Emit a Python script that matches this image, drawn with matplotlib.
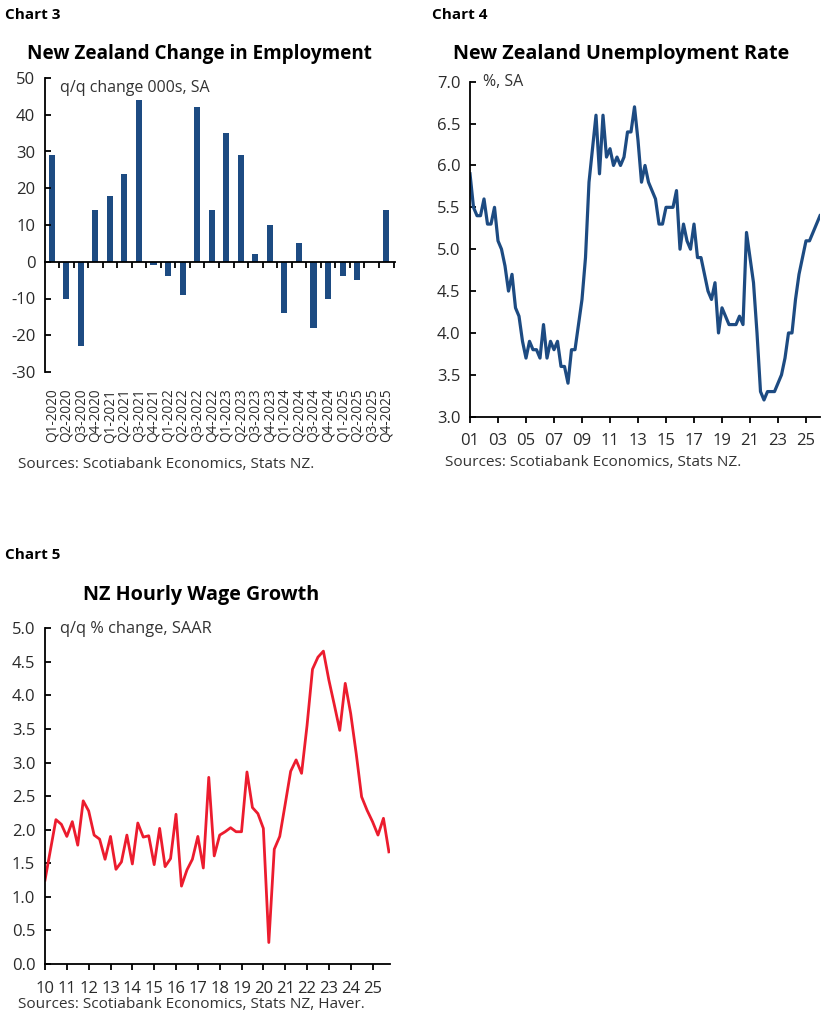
import matplotlib
matplotlib.use("Agg")
import matplotlib.pyplot as plt
import numpy as np

plt.rcParams['font.family'] = ['Open Sans', 'DejaVu Sans']
plt.rcParams['axes.unicode_minus'] = False

# Chart 3: change in employment, q/q, 000s
emp_labels = ['Q1-2020', 'Q2-2020', 'Q3-2020', 'Q4-2020',
              'Q1-2021', 'Q2-2021', 'Q3-2021', 'Q4-2021',
              'Q1-2022', 'Q2-2022', 'Q3-2022', 'Q4-2022',
              'Q1-2023', 'Q2-2023', 'Q3-2023', 'Q4-2023',
              'Q1-2024', 'Q2-2024', 'Q3-2024', 'Q4-2024',
              'Q1-2025', 'Q2-2025', 'Q3-2025', 'Q4-2025']
emp_change = [29, -10, -23, 14, 18, 24, 44, -1, -4, -9, 42, 14,
              35, 29, 2, 10, -14, 5, -18, -10, -4, -5, 0, 14]

# Chart 4: unemployment rate, quarterly from 2000 Q4 to 2025 Q4
unemp_start = 2001.0
unemp_rate = [5.9, 5.5, 5.4, 5.4, 5.6, 5.3, 5.3, 5.5, 5.1, 5.0,
              4.8, 4.5, 4.7, 4.3, 4.2, 3.9, 3.7, 3.9, 3.8, 3.8,
              3.7, 4.1, 3.7, 3.9, 3.8, 3.9, 3.6, 3.6, 3.4, 3.8,
              3.8, 4.1, 4.4, 4.9, 5.8, 6.2, 6.6, 5.9, 6.6, 6.1,
              6.2, 6.0, 6.1, 6.0, 6.1, 6.4, 6.4, 6.7, 6.3, 5.8,
              6.0, 5.8, 5.7, 5.6, 5.3, 5.3, 5.5, 5.5, 5.5, 5.7,
              5.0, 5.3, 5.1, 5.0, 5.3, 4.9, 4.9, 4.7, 4.5, 4.4,
              4.6, 4.0, 4.3, 4.2, 4.1, 4.1, 4.1, 4.2, 4.1, 5.2,
              4.9, 4.6, 4.0, 3.3, 3.2, 3.3, 3.3, 3.3, 3.4, 3.5,
              3.7, 4.0, 4.0, 4.4, 4.7, 4.9, 5.1, 5.1, 5.2, 5.3, 5.4]
unemp_ticks = list(range(2001, 2027, 2))
unemp_ticklabels = ['01', '03', '05', '07', '09', '11', '13',
                    '15', '17', '19', '21', '23', '25']

# Chart 5: hourly wage growth, q/q % SAAR
wage_start = 2010.0
wage_growth = [1.25, 1.7, 2.15, 2.08, 1.9, 2.12, 1.77, 2.43, 2.28, 1.92,
               1.86, 1.56, 1.9, 1.41, 1.52, 1.92, 1.49, 2.1, 1.89, 1.91,
               1.48, 2.02, 1.45, 1.57, 2.23, 1.16, 1.4, 1.56, 1.9, 1.43,
               2.78, 1.61, 1.92, 1.97, 2.03, 1.97, 1.97, 2.86, 2.33, 2.24,
               2.02, 0.32, 1.71, 1.9, 2.38, 2.87, 3.04, 2.84, 3.55, 4.39,
               4.57, 4.66, 4.23, 3.86, 3.48, 4.18, 3.73, 3.14, 2.49, 2.29,
               2.12, 1.92, 2.17, 1.67]
wage_ticks = list(range(2010, 2026))
wage_ticklabels = [str(y)[2:] for y in wage_ticks]

blue = '#1d4b82'
red = '#ec1c2e'
grey = '#2a2a2a'
W, H = 828, 1023

fig = plt.figure(figsize=(W / 100, H / 100), dpi=100)


def px_axes(left, top, right, bottom):
    return fig.add_axes([left / W, 1 - bottom / H, (right - left) / W, (bottom - top) / H])


def px_text(x, y, s, **kw):
    fig.text(x / W, 1 - y / H, s, **kw)


def style(ax):
    for s in ['top', 'right']:
        ax.spines[s].set_visible(False)
    for s in ['left', 'bottom']:
        ax.spines[s].set_linewidth(1.3)
    ax.tick_params(axis='y', direction='in', length=4, width=1.3, labelsize=12, pad=7,
                   labelcolor=grey)
    ax.tick_params(axis='x', direction='out', length=4, width=1.3, labelsize=12, pad=6,
                   labelcolor=grey)


# ---- Chart 3
ax3 = px_axes(45, 78, 395, 372)
style(ax3)
xs = np.arange(len(emp_change))
ax3.bar(xs, emp_change, width=0.42, color=blue)
ax3.set_ylim(-30, 50)
ax3.set_yticks(range(-30, 51, 10))
ax3.set_xlim(-0.46, len(emp_change) - 0.4)
ax3.spines['bottom'].set_position(('data', 0))
ax3.set_xticks(xs + 0.5)
ax3.set_xticklabels([])
sec = ax3.secondary_xaxis(0)
sec.set_xticks(xs)
sec.set_xticklabels(emp_labels, rotation=90, fontsize=9.8, color=grey)
sec.tick_params(length=0, pad=12)
sec.spines['bottom'].set_visible(False)
px_text(60, 88, 'q/q change 000s, SA', fontsize=11.5, color='#333333', va='center')

# ---- Chart 4
ax4 = px_axes(470, 81.7, 820, 416.7)
style(ax4)
ux = unemp_start + np.arange(len(unemp_rate)) / 4
ax4.plot(ux, unemp_rate, color=blue, lw=2.3, solid_joinstyle='round')
ax4.set_xlim(2001, 2026)
ax4.set_ylim(3, 7)
ax4.set_yticks(np.arange(3, 7.01, 0.5))
ax4.set_yticklabels([f'{v:.1f}' for v in np.arange(3, 7.01, 0.5)])
ax4.set_xticks(unemp_ticks)
ax4.set_xticklabels(unemp_ticklabels)
ax4.tick_params(axis='x', pad=8)
px_text(483, 82, '%, SA', fontsize=11.5, color='#333333', va='center')

# ---- Chart 5
ax5 = px_axes(45, 628.3, 390, 964)
style(ax5)
wx = wage_start + np.arange(len(wage_growth)) / 4
ax5.plot(wx, wage_growth, color=red, lw=2.0, solid_joinstyle='round')
ax5.set_xlim(2010, 2025.8)
ax5.set_ylim(0, 5)
ax5.set_yticks(np.arange(0, 5.01, 0.5))
ax5.set_yticklabels([f'{v:.1f}' for v in np.arange(0, 5.01, 0.5)])
ax5.set_xticks(wage_ticks)
ax5.set_xticklabels(wage_ticklabels)
ax5.tick_params(axis='x', pad=8)
px_text(60, 629, 'q/q % change, SAAR', fontsize=11.8, color='#333333', va='center')

# ---- labels and titles
for x, y, s in [(5, 15, 'Chart 3'), (432, 15, 'Chart 4'), (5, 555, 'Chart 5')]:
    px_text(x, y, s, fontsize=11, fontweight='bold', va='center')
for x, y, s, fs in [(199, 54, 'New Zealand Change in Employment', 13.6),
                    (621, 54, 'New Zealand Unemployment Rate', 14.2),
                    (201, 595, 'NZ Hourly Wage Growth', 14.2)]:
    px_text(x, y, s, fontsize=fs, fontweight='bold', ha='center', va='center')
for x, y, s in [(18, 465, 'Sources: Scotiabank Economics, Stats NZ.'),
                (445, 463, 'Sources: Scotiabank Economics, Stats NZ.'),
                (18, 1005, 'Sources: Scotiabank Economics, Stats NZ, Haver.')]:
    px_text(x, y, s, fontsize=11.1, color='#333333', va='center')

fig.savefig('out.png', dpi=100)
